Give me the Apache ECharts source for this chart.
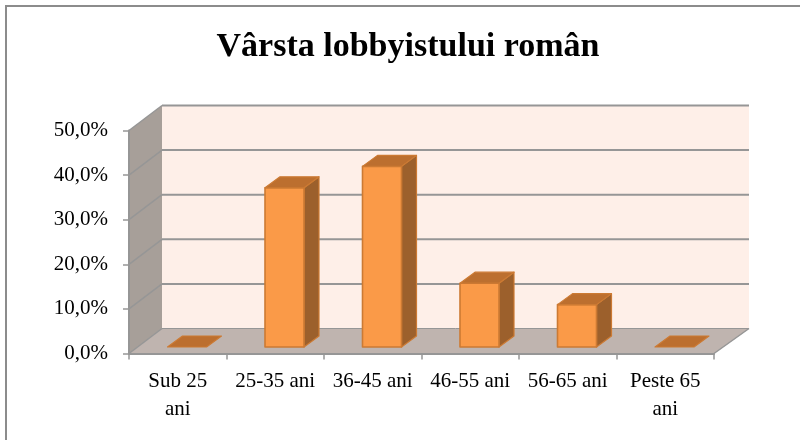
<!DOCTYPE html>
<html>
<head>
<meta charset="utf-8">
<style>html,body{margin:0;padding:0;background:#fff}#c{width:800px;height:440px}</style>
<script src="https://cdn.jsdelivr.net/npm/echarts@6/dist/echarts.min.js"></script>
</head>
<body>
<div id="c"></div>
<script>
const titleText = 'Vârsta lobbyistului român';
const categories = ['Sub 25\nani', '25-35 ani', '36-45 ani', '46-55 ani', '56-65 ani', 'Peste 65\nani'];
const shares = [0, 35.7, 40.5, 14.3, 9.5, 0];
const yTicks = [0, 10, 20, 30, 40, 50];

const FONT = '"Liberation Serif", serif';
const BACK_L = 33, BACK_R = 35, BACK_UP = 25;      // depth of the chart box
const BAR_OX = 9.25, BAR_UP = 6.5;                 // bar position within the depth
const BAR_DX = 15, BAR_DY = 11, BAR_RATIO = 0.4;   // bar depth and width
const AXIS_GREY = '#969696';

function poly(points, fill, stroke, lw, z2) {
  return {
    type: 'polygon', z2: z2 || 0,
    shape: { points: points },
    style: { fill: fill, stroke: stroke || null, lineWidth: lw || 0, lineJoin: 'round' }
  };
}
function seg(a, b, stroke, lw, z2) {
  return {
    type: 'line', z2: z2 || 1,
    shape: { x1: a[0], y1: a[1], x2: b[0], y2: b[1] },
    style: { stroke: stroke, lineWidth: lw }
  };
}
function box(params, api) {
  const cs = params.coordSys;
  return { x0: cs.x, x1: cs.x + cs.width, y0: api.coord([0, 0])[1], y50: api.coord([0, 50])[1] };
}

function renderWalls(params, api) {
  const b = box(params, api);
  return {
    type: 'group',
    children: [
      poly([[b.x0 + BACK_L, b.y50 - BACK_UP], [b.x1 + BACK_R, b.y50 - BACK_UP],
            [b.x1 + BACK_R, b.y0 - BACK_UP], [b.x0 + BACK_L, b.y0 - BACK_UP]], '#feefe8'),
      poly([[b.x0, b.y50], [b.x0 + BACK_L, b.y50 - BACK_UP],
            [b.x0 + BACK_L, b.y0 - BACK_UP], [b.x0, b.y0]], '#a79f99'),
      poly([[b.x0, b.y0], [b.x0 + BACK_L, b.y0 - BACK_UP],
            [b.x1 + BACK_R, b.y0 - BACK_UP], [b.x1, b.y0]], '#bfb4af'),
      seg([b.x1, b.y0], [b.x1 + BACK_R, b.y0 - BACK_UP], AXIS_GREY, 1.5)
    ]
  };
}

function renderGrid(params, api) {
  const b = box(params, api);
  const y = api.coord([0, api.value(1)])[1];
  const back = [b.x0 + BACK_L, y - BACK_UP];
  return {
    type: 'group',
    children: [
      seg([b.x0, y], back, AXIS_GREY, 1.5),
      seg(back, [b.x1 + BACK_R, y - BACK_UP], AXIS_GREY, api.value(1) === 0 ? 1 : 2)
    ]
  };
}

function renderBar(params, api) {
  const c = api.coord([api.value(0), 0]);
  const t = api.coord([api.value(0), api.value(1)]);
  const w = api.size([1, 0])[0] * BAR_RATIO;
  const l = c[0] + BAR_OX - w / 2, r = l + w;
  const bot = c[1] - BAR_UP, top = t[1] - BAR_UP;
  const edge = '#cc7a33';
  const kids = [];
  if (top < bot) {
    kids.push(poly([[r, top], [r + BAR_DX, top - BAR_DY], [r + BAR_DX, bot - BAR_DY], [r, bot]], '#9c602c', edge, 1.2));
    kids.push(poly([[l, top], [r, top], [r, bot], [l, bot]], '#fa9a48', edge, 1.6));
  }
  kids.push(poly([[l, top], [l + BAR_DX, top - BAR_DY], [r + BAR_DX, top - BAR_DY], [r, top]], '#bc6f2f', edge, 1.2));
  return { type: 'group', children: kids };
}

const chart = echarts.init(document.getElementById('c'), null, { renderer: 'canvas' });
chart.setOption({
  animation: false,
  backgroundColor: '#fff',
  title: {
    text: titleText, left: 403, top: 25, textAlign: 'center',
    textStyle: { fontFamily: FONT, fontWeight: 'bold', fontSize: 34, color: '#000' }
  },
  grid: { left: 129, right: 86, top: 130.5, bottom: 86.5 },
  xAxis: {
    type: 'category', data: categories, z: 10,
    axisLine: { lineStyle: { color: AXIS_GREY, width: 2 } },
    axisTick: { show: true, alignWithLabel: false, length: 6, lineStyle: { color: AXIS_GREY, width: 1.5 } },
    axisLabel: { interval: 0, margin: 14, fontFamily: FONT, fontSize: 21, lineHeight: 28, color: '#000' }
  },
  yAxis: {
    type: 'value', min: 0, max: 50, interval: 10, z: 10,
    splitLine: { show: false },
    axisLine: { show: true, lineStyle: { color: AXIS_GREY, width: 2 } },
    axisTick: { show: true, length: 6, lineStyle: { color: AXIS_GREY, width: 1.5 } },
    axisLabel: {
      margin: 21, fontFamily: FONT, fontSize: 21, color: '#000',
      formatter: v => v.toFixed(1).replace('.', ',') + '%'
    }
  },
  graphic: [
    { type: 'rect', shape: { x: 5, y: 5, width: 795, height: 2 }, style: { fill: '#8c8c8c' } },
    { type: 'rect', shape: { x: 5, y: 5, width: 2, height: 435 }, style: { fill: '#8c8c8c' } }
  ],
  series: [
    { type: 'custom', renderItem: renderWalls, data: [[0, 0]], clip: false, silent: true, z: 1 },
    { type: 'custom', renderItem: renderGrid, data: yTicks.map(v => [0, v]), clip: false, silent: true, z: 2 },
    { type: 'custom', renderItem: renderBar, data: categories.map((c, i) => [i, shares[i]]), clip: false, z: 3 }
  ]
});
</script>
</body>
</html>
